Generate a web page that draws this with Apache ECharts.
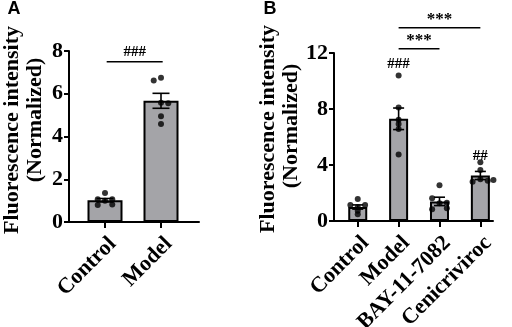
<!DOCTYPE html>
<html><head><meta charset="utf-8">
<script src="https://cdn.jsdelivr.net/npm/echarts@6/dist/echarts.min.js"></script>
<style>html,body{margin:0;padding:0;background:#fff}#c{width:512px;height:327px}</style>
</head><body><div id="c"></div>
<script>
// ---------- Panel A data ----------
const catsA = ['Control', 'Model'];
const meanA = [1.02, 5.67];
const semA = [0.08, 0.35];
const ptsA = [[1.36, 1.06, 1.06, 0.80, 0.82, 1.00], [6.62, 6.75, 5.58, 5.55, 4.95, 4.58]];
const jitA = [[0, -0.13, 0.13, -0.13, 0.13, 0], [-0.13, 0, 0, 0.13, 0, 0]];
const yTicksA = [0, 2, 4, 6, 8];
const sigFromA = [0.03], sigToA = [1.03], sigYA = [7.5], sigTextA = ['###'];

// ---------- Panel B data ----------
const catsB = ['Control', 'Model', 'BAY-11-7082', 'Cenicriviroc'];
const meanB = [1.0, 7.3, 1.4, 3.25];
const semB = [0.15, 0.77, 0.3, 0.29];
const ptsB = [
  [1.57, 1.15, 1.15, 1.00, 0.74, 0.48],
  [10.4, 8.1, 7.23, 6.92, 6.58, 4.75],
  [2.55, 1.62, 1.27, 1.31, 0.84, 0.91],
  [4.2, 3.65, 2.81, 2.98, 2.88, 2.93]
];
const jitB = [
  [0, -0.18, 0.18, 0, 0, 0],
  [0, 0, 0, 0, 0, 0],
  [0, -0.18, 0, 0.18, -0.18, 0.18],
  [0, 0, -0.19, 0, 0.18, 0.32]
];
const yTicksB = [0, 4, 8, 12];
const sigFromB = [1, 1], sigToB = [2, 3], sigYB = [12.3, 13.8], sigTextB = ['***', '***'];
const annoXB = [1, 3], annoYB = [11.2, 4.65], annoTextB = ['###', '##'];

const yTitle1 = 'Fluorescence intensity';
const yTitle2 = '(Normalized)';

// ---------- helpers ----------
const SERIF = 'Liberation Serif';
function scatterData(pts, jit) {
  const out = [];
  pts.forEach((g, i) => g.forEach((v, j) => out.push([i + jit[i][j], v])));
  return out;
}
function errSeries(xi, yi, means, sems, cap) {
  return {
    type: 'custom', xAxisIndex: xi, yAxisIndex: yi, z: 5,
    data: means.map((m, i) => [i, m, sems[i]]),
    renderItem: function (params, api) {
      const x = api.value(0), m = api.value(1), s = api.value(2);
      const t = api.coord([x, m + s]), b = api.coord([x, m - s]);
      const st = { stroke: '#000', lineWidth: 1.6 };
      return { type: 'group', children: [
        { type: 'line', shape: { x1: t[0], y1: t[1], x2: b[0], y2: b[1] }, style: st },
        { type: 'line', shape: { x1: t[0] - cap / 2, y1: t[1], x2: t[0] + cap / 2, y2: t[1] }, style: st },
        { type: 'line', shape: { x1: b[0] - cap / 2, y1: b[1], x2: b[0] + cap / 2, y2: b[1] }, style: st }
      ]};
    }
  };
}
function sigSeries(xi, yi, from, to, ys, texts, fontSize, gap) {
  return {
    type: 'custom', xAxisIndex: xi, yAxisIndex: yi, clip: false, z: 6,
    data: from.map((f, i) => [f, to[i], ys[i]]),
    renderItem: function (params, api) {
      const a = api.coord([api.value(0), api.value(2)]);
      const b = api.coord([api.value(1), api.value(2)]);
      return { type: 'group', children: [
        { type: 'line', shape: { x1: a[0], y1: a[1], x2: b[0], y2: b[1] }, style: { stroke: '#000', lineWidth: 1.6 } },
        { type: 'text', x: (a[0] + b[0]) / 2, y: a[1] - gap,
          style: { text: texts[params.dataIndex], fill: '#000', font: 'bold ' + fontSize + 'px "' + SERIF + '"', textAlign: 'center', textVerticalAlign: 'bottom' } }
      ]};
    }
  };
}
function annoSeries(xi, yi, xs, ys, texts) {
  return {
    type: 'custom', xAxisIndex: xi, yAxisIndex: yi, clip: false, z: 6,
    data: xs.map((x, i) => [x, ys[i]]),
    renderItem: function (params, api) {
      const p = api.coord([api.value(0), api.value(1)]);
      return { type: 'text', x: p[0], y: p[1],
        style: { text: texts[params.dataIndex], fill: '#000', font: 'bold 15px "' + SERIF + '"', textAlign: 'center', textVerticalAlign: 'middle' } };
    }
  };
}
const frameX = (g) => ({ type: 'value', gridIndex: g, min: 0, max: 1, show: true,
  axisLine: { show: true, lineStyle: { color: '#000', width: 2 } },
  axisTick: { show: false }, axisLabel: { show: false }, splitLine: { show: false } });
const frameY = (g, ticks) => ({ type: 'value', gridIndex: g, min: ticks[0], max: ticks[ticks.length - 1],
  interval: ticks[1] - ticks[0],
  axisLine: { show: true, lineStyle: { color: '#000', width: 2 } },
  axisTick: { show: true, length: 5, lineStyle: { color: '#000', width: 2 } },
  axisLabel: { color: '#000', fontFamily: SERIF, fontWeight: 'bold', fontSize: 22, margin: 6 },
  splitLine: { show: false } });
const catX = (g, cats) => ({ type: 'category', gridIndex: g, data: cats,
  axisLine: { show: false },
  axisTick: { show: true, alignWithLabel: true, length: 6, lineStyle: { color: '#000', width: 2 } },
  axisLabel: { interval: 0, rotate: 45, color: '#000', fontFamily: SERIF, fontWeight: 'bold', fontSize: 22, margin: 11, verticalAlign: 'top' } });
const hidX = (g, n) => ({ type: 'value', gridIndex: g, min: -0.5, max: n - 0.5, show: false });
const hidY = (g, ticks) => ({ type: 'value', gridIndex: g, min: ticks[0], max: ticks[ticks.length - 1], show: false });

const barStyle = { color: '#a4a4a8', borderColor: '#000', borderWidth: 2 };

const option = {
  animation: false,
  backgroundColor: '#fff',
  grid: [
    { left: 69, top: 51, width: 130, height: 171, outerBoundsMode: 'none', containLabel: false },
    { left: 77, top: 51, width: 112, height: 171, outerBoundsMode: 'none', containLabel: false },
    { left: 334, top: 53, width: 159, height: 168, outerBoundsMode: 'none', containLabel: false },
    { left: 337.3, top: 53, width: 163.5, height: 168, outerBoundsMode: 'none', containLabel: false }
  ],
  xAxis: [frameX(0), catX(1, catsA), hidX(1, catsA.length), frameX(2), catX(3, catsB), hidX(3, catsB.length)],
  yAxis: [frameY(0, yTicksA), hidY(1, yTicksA), frameY(2, yTicksB), hidY(3, yTicksB)],
  graphic: [
    { type: 'text', x: 14, y: 9, style: { text: 'A', font: 'bold 18px "Liberation Sans"', fill: '#000', textAlign: 'center', textVerticalAlign: 'middle' } },
    { type: 'text', x: 270, y: 9, style: { text: 'B', font: 'bold 18px "Liberation Sans"', fill: '#000', textAlign: 'center', textVerticalAlign: 'middle' } },
    { type: 'text', x: 12, y: 130, rotation: Math.PI / 2, style: { text: yTitle1, font: 'bold 22px "' + SERIF + '"', fill: '#000', textAlign: 'center', textVerticalAlign: 'middle' } },
    { type: 'text', x: 35, y: 120, rotation: Math.PI / 2, style: { text: yTitle2, font: 'bold 22px "' + SERIF + '"', fill: '#000', textAlign: 'center', textVerticalAlign: 'middle' } },
    { type: 'text', x: 268, y: 129, rotation: Math.PI / 2, style: { text: yTitle1, font: 'bold 22px "' + SERIF + '"', fill: '#000', textAlign: 'center', textVerticalAlign: 'middle' } },
    { type: 'text', x: 291, y: 126, rotation: Math.PI / 2, style: { text: yTitle2, font: 'bold 22px "' + SERIF + '"', fill: '#000', textAlign: 'center', textVerticalAlign: 'middle' } }
  ],
  series: [
    { type: 'bar', xAxisIndex: 1, yAxisIndex: 1, data: meanA, barWidth: 35, itemStyle: barStyle },
    errSeries(2, 1, meanA, semA, 17),
    { type: 'scatter', xAxisIndex: 2, yAxisIndex: 1, data: scatterData(ptsA, jitA), symbolSize: 6, itemStyle: { color: '#000' }, z: 7 },
    sigSeries(2, 1, sigFromA, sigToA, sigYA, sigTextA, 15, 2),
    { type: 'bar', xAxisIndex: 4, yAxisIndex: 3, data: meanB, barWidth: 19, itemStyle: barStyle },
    errSeries(5, 3, meanB, semB, 11),
    { type: 'scatter', xAxisIndex: 5, yAxisIndex: 3, data: scatterData(ptsB, jitB), symbolSize: 6, itemStyle: { color: '#000' }, z: 7 },
    sigSeries(5, 3, sigFromB, sigToB, sigYB, sigTextB, 17, 0),
    annoSeries(5, 3, annoXB, annoYB, annoTextB)
  ]
};
echarts.init(document.getElementById('c')).setOption(option);
</script>
</body></html>
